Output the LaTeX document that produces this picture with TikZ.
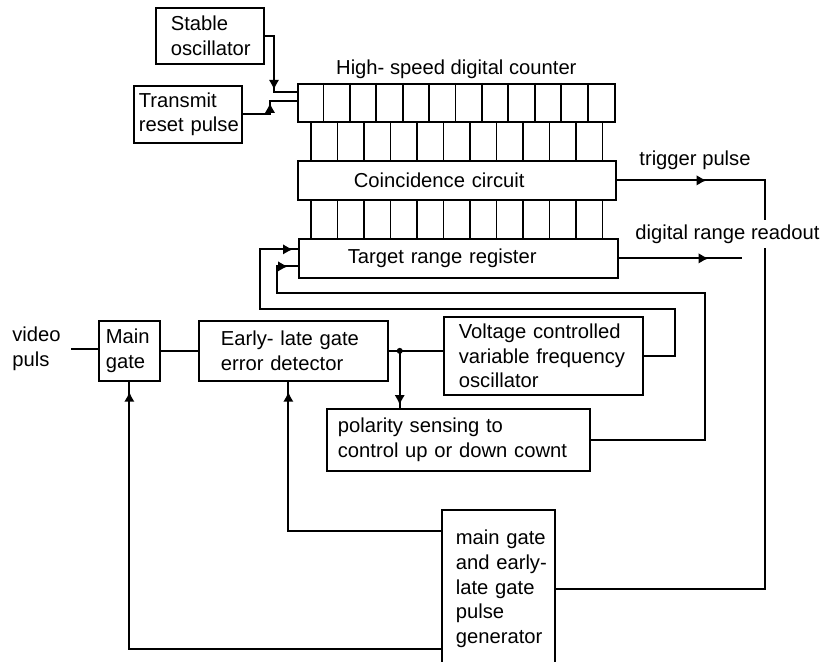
\documentclass[tikz,border=0pt]{standalone}
\usepackage{fontspec}
\setmainfont{Liberation Sans}
\usepackage{xcolor}
\usetikzlibrary{arrows.meta,positioning,calc,decorations.markings}
\definecolor{Ink}{HTML}{000000}
\tikzset{
  blk/.style={draw=Ink, line width=1pt, anchor=north west, align=left, inner ysep=0pt, font=\fontsize{11.5}{14}\selectfont},
  lbl/.style={inner sep=0pt, align=left, font=\fontsize{11.5}{14}\selectfont},
  wire/.style={draw=Ink, line width=1pt},
  tipat/.style={postaction={decorate}, decoration={markings, mark=at position #1 with {\arrow{Latex[length=2mm,width=2.1mm]}}}}
}

\begin{document}
\begin{tikzpicture}[x=0.02cm, y=-0.02cm]
    \useasboundingbox (0,0) rectangle (821,662);
    \node[blk, minimum width=2.16cm, minimum height=1.12cm, inner xsep=0.3cm, text width=1.56cm] (stab) at (155,7) {Stable\\oscillator};
    \node[blk, minimum width=2.16cm, minimum height=1.14cm, inner xsep=0.1cm, text width=1.96cm] (trans) at (133,85) {Transmit\\\mbox{reset pulse}};
    \node[blk, minimum width=6.34cm, minimum height=0.76cm, inner sep=0pt] (cnt) at (297,83) {};
    \node[lbl, above=0.08cm of cnt] (cntlbl) {High- speed digital counter};
    \node[blk, minimum width=6.36cm, minimum height=0.78cm, inner xsep=1.12cm, text width=4.12cm] (coin) at (297,160) {Coincidence circuit};
    \node[blk, minimum width=6.38cm, minimum height=0.78cm, inner xsep=0.98cm, text width=4.42cm] (reg) at (298,238) {Target range register};
    \node[blk, minimum width=1.22cm, minimum height=1.2cm, inner xsep=0.14cm, text width=0.94cm] (mg) at (98,320) {Main\\gate};
    \node[blk, minimum width=3.78cm, minimum height=1.2cm, inner xsep=0.44cm, text width=2.9cm] (el) at (198,320) {\mbox{Early- late gate}\\\mbox{error detector}};
    \node[blk, minimum width=3.98cm, minimum height=1.56cm, inner xsep=0.3cm, text width=3.38cm] (vco) at (443,316) {\mbox{Voltage controlled}\\\mbox{variable frequency}\\oscillator};
    \node[blk, minimum width=5.26cm, minimum height=1.24cm, inner xsep=0.22cm, text width=4.82cm] (pol) at (326,408) {\mbox{polarity sensing to}\\\mbox{control up or down cownt}};
    \node[blk, minimum width=2.26cm, minimum height=3.16cm, inner xsep=0.28cm, text width=1.7cm] (pg) at (441,509) {\mbox{main gate}\\\mbox{and early-}\\\mbox{late gate}\\pulse\\generator};
    \node[lbl, anchor=west, inner xsep=0.2cm] (vid) at (2,349) {video\\puls};
    \node[lbl] (trg) at (695,160) {trigger pulse};
    \node[lbl, anchor=west, inner ysep=2.5pt] (rdo) at (635,234) {digital range readout};
    \foreach \i in {1,...,11}
      \draw[wire] ($(cnt.north west)+(\i*26.42,0)$) -- ++(0,38);
    \foreach \i in {0,...,11} {
      \draw[wire] ($(cnt.south west)+(14+\i*26.5,0)$) -- ($(coin.north west)+(14+\i*26.5,0)$);
      \draw[wire] ($(coin.south west)+(14+\i*26.5,0)$) -- ($(reg.north west)+(13+\i*26.5,0)$);
    }
    \draw[wire, tipat=-0.5cm] (stab.east) -| ($(cnt.west)+(-23,-11)$) -- ($(cnt.west)+(0,-11)$);
    \draw[wire, tipat=-0.58cm] (trans.east) -| ($(cnt.west)+(-27,-2)$) -- ($(cnt.west)+(0,-2)$);
    \draw[wire, tipat=1.8cm] (coin.east) -- ++(148,0) coordinate (tbend) -- (tbend |- rdo.north);
    \draw[wire] (tbend |- rdo.south) |- (pg.east);
    \draw[wire, tipat=1.8cm] (reg.east) -- ++(123,0) coordinate (rout);
    \draw[wire] (vid.east) -- (vid.east -| mg.west);
    \draw[wire] (mg.east) -- (el.west);
    \draw[wire] (el.east) -- (el.east -| vco.west);
    \coordinate (jn) at ($(el.east)+(11,0)$);
    \fill[Ink] (jn) circle[radius=0.06cm];
    \draw[wire, tipat=-0.06cm] (jn) -- (jn |- pol.north);
    \draw[wire, tipat=-0.1cm] (vco.east) -- ++(31,0) |- ++(-415,-47) |- ($(reg.west)+(0,-9)$);
    \draw[wire, tipat=-0.2cm] (pol.east) -- ++(114,0) |- ++(-428,-147) |- ($(reg.west)+(0,8)$);
    \draw[wire, tipat=-0.2cm] ($(pg.north west)+(0,22)$) -| ($(el.south)+(-5,0)$);
    \draw[wire, tipat=-0.2cm] ($(pg.north west)+(0,140)$) -| (mg.south);
  \end{tikzpicture}
\end{document}
